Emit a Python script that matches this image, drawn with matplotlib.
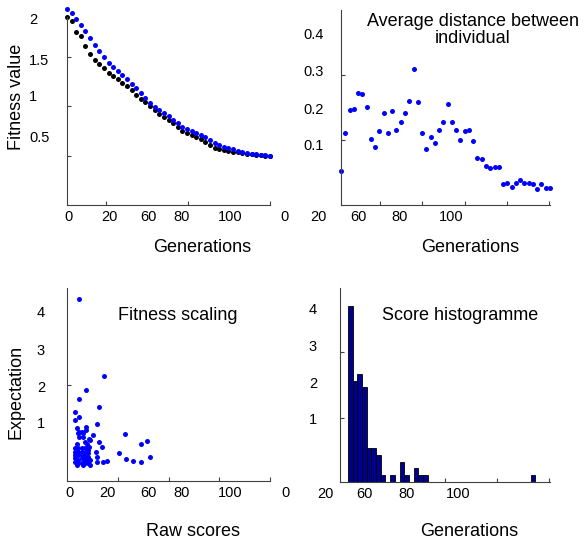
import numpy as np
import matplotlib
matplotlib.use("Agg")
import matplotlib.pyplot as plt
import matplotlib.transforms as mtransforms

plt.rcParams['font.family'] = ['Liberation Sans', 'DejaVu Sans']

# --- données : meilleur / moyen fitness par génération ---
fit_gen = np.arange(45)
fit_mean = [1.98, 1.94, 1.88, 1.82, 1.76, 1.69, 1.62, 1.56, 1.50, 1.44,
            1.39, 1.35, 1.31, 1.27, 1.22, 1.18, 1.13, 1.08, 1.03, 0.99,
            0.96, 0.93, 0.90, 0.86, 0.83, 0.79, 0.77, 0.75, 0.73, 0.71,
            0.69, 0.66, 0.63, 0.61, 0.59, 0.58, 0.565, 0.55, 0.54, 0.53,
            0.52, 0.515, 0.51, 0.505, 0.50]
fit_best = [1.90, 1.86, 1.75, 1.71, 1.61, 1.53, 1.47, 1.43, 1.38, 1.33,
            1.30, 1.27, 1.23, 1.20, 1.16, 1.11, 1.07, 1.04, 1.00, 0.96,
            0.92, 0.89, 0.86, 0.83, 0.79, 0.75, 0.73, 0.71, 0.69, 0.67,
            0.64, 0.61, 0.58, 0.565, 0.555, 0.55, 0.54, 0.535, 0.525, 0.52,
            0.515, 0.51, 0.505, 0.50, 0.50]

# --- distance moyenne entre individus ---
dist_gen = np.arange(50)
dist_val = [0.052, 0.111, 0.146, 0.148, 0.173, 0.171, 0.151, 0.101, 0.090, 0.114,
            0.141, 0.111, 0.144, 0.115, 0.128, 0.141, 0.160, 0.209, 0.158, 0.111,
            0.086, 0.105, 0.096, 0.115, 0.128, 0.156, 0.128, 0.115, 0.100, 0.114,
            0.115, 0.098, 0.073, 0.071, 0.060, 0.057, 0.058, 0.058, 0.032, 0.034,
            0.028, 0.034, 0.038, 0.034, 0.034, 0.032, 0.024, 0.032, 0.026, 0.026]

# --- fitness scaling : raw score vs expectation ---
raw_scores = [11.8, 36.7, 18.4, 11.8, 31.8, 7.9, 11.8, 7.9, 29.3, 18.4,
              9.6, 11.8, 16.1, 25.3, 11.8, 22.0, 57.1, 31.8, 17.7, 34.2,
              78.5, 72.9, 51.5, 28.6, 81.8, 58.1, 65.3, 72.9, 39.1, 35.8,
              29.3, 29.3,
              7.9, 11.1, 14.5, 17.7, 21.0, 7.9, 11.1, 14.5, 17.7, 21.0,
              7.9, 11.1, 14.5, 17.7, 21.0, 7.9, 11.1, 14.5, 17.7, 21.0,
              7.9, 11.1, 14.5, 17.7, 21.0, 22.7, 9.6, 16.1, 22.7,
              11.1, 16.1, 19.4, 9.6, 22.7, 22.0, 18.7, 14.5]
expectation = [3.79, 2.19, 1.90, 1.71, 1.55, 1.44, 1.34, 1.27, 1.18, 1.13,
               1.10, 1.03, 0.99, 0.96, 0.92, 0.87, 0.98, 0.81, 0.82, 0.71,
               0.83, 0.77, 0.59, 0.61, 0.49, 0.45, 0.42, 0.40, 0.42, 0.39,
               0.39, 0.51,
               0.68, 0.68, 0.68, 0.68, 0.65, 0.61, 0.61, 0.61, 0.58, 0.58,
               0.54, 0.54, 0.54, 0.51, 0.51, 0.47, 0.44, 0.47, 0.44, 0.44,
               0.40, 0.37, 0.37, 0.37, 0.37, 0.44, 0.33, 0.33, 0.33,
               0.99, 0.92, 0.78, 0.78, 0.85, 0.71, 1.06, 1.03]

# --- histogramme des scores (40 classes) ---
hist_bins = np.arange(40)
hist_counts = [26, 15, 16, 14, 5, 5, 4, 1, 0, 1,
               0, 3, 1, 0, 2, 1, 1, 0, 0, 0,
               0, 0, 0, 0, 0, 0, 0, 0, 0, 0,
               0, 0, 0, 0, 0, 0, 0, 0, 0, 1]

W, H = 586, 541
fig = plt.figure(figsize=(W / 100, H / 100), dpi=100)


def px_axes(left, top, right, bottom):
    return fig.add_axes([left / W, 1 - bottom / H, (right - left) / W, (bottom - top) / H])


def px_text(x, y, s, **kw):
    fig.text(x / W, 1 - y / H, s, **kw)


def style_axes(ax, xmarks, ymarks):
    for side in ['top', 'right']:
        ax.spines[side].set_visible(False)
    for side in ['left', 'bottom']:
        ax.spines[side].set_color('#404040')
        ax.spines[side].set_linewidth(0.8)
    ax.set_xticks(xmarks)
    ax.set_yticks(ymarks)
    ax.tick_params(direction='in', length=3, width=0.8, color='#404040',
                   labelbottom=False, labelleft=False)


def tick_texts(ax, xpos, xlabels, ypos, ylabels, yoff, yha):
    tx = mtransforms.offset_copy(mtransforms.blended_transform_factory(ax.transData, ax.transAxes),
                                 fig=fig, y=-12, units='dots')
    for p, lab in zip(xpos, xlabels):
        ax.text(p, 0, lab, transform=tx, ha='center', va='center', fontsize=10.5, clip_on=False)
    ty = mtransforms.offset_copy(mtransforms.blended_transform_factory(ax.transAxes, ax.transData),
                                 fig=fig, x=yoff, units='dots')
    for p, lab in zip(ypos, ylabels):
        ax.text(0, p, lab, transform=ty, ha=yha, va='center', fontsize=10.5, clip_on=False)


# 1. Fitness value
ax1 = px_axes(67, 17, 270, 205)
ax1.plot(fit_gen, fit_best, 'o', color='black', ms=3.6, mew=0, clip_on=False)
ax1.plot(fit_gen, fit_mean, 'o', color='blue', ms=3.6, mew=0, clip_on=False)
ax1.set_xlim(0, 44)
ax1.set_ylim(0, 1.9)
style_axes(ax1, [8.45, 26.2, 44], [0.5, 1.0, 1.5])
tick_texts(ax1, [0.43, 9.1, 17.6, 24.9, 35.3, 47.2], ['0', '20', '60', '80', '100', '0'],
           [1.87, 1.46, 1.09, 0.68], ['2', '1.5', '1', '0.5'], -38, 'left')
px_text(17, 97, 'Fitness value', rotation=90, ha='center', va='center', fontsize=13)
px_text(202, 248, 'Generations', ha='center', va='center', fontsize=13)

# 2. Average distance
ax2 = px_axes(341, 10, 550, 205)
ax2.plot(dist_gen, dist_val, 'o', color='blue', ms=3.6, mew=0, clip_on=False)
ax2.set_xlim(0, 49)
ax2.set_ylim(0, 0.3)
style_axes(ax2, [9.1, 19, 29, 38.9, 48.8], [0.1, 0.2])
tick_texts(ax2, [-5.4, 4.0, 13.8, 25.8], ['20', '60', '80', '100'],
           [0.262, 0.204, 0.146, 0.090], ['0.4', '0.3', '0.2', '0.1'], -38, 'left')
px_text(473, 30, 'Average distance between\nindividual', ha='center', va='center',
        fontsize=13, linespacing=1.05)
px_text(470, 248, 'Generations', ha='center', va='center', fontsize=13)

# 3. Fitness scaling
ax3 = px_axes(67, 288, 270, 481)
ax3.plot(raw_scores, expectation, 'o', color='blue', ms=3.6, mew=0, clip_on=False)
ax3.set_xlim(0, 200)
ax3.set_ylim(0, 4.02)
style_axes(ax3, [50, 100, 150, 200], [2.0])
tick_texts(ax3, [2, 39.4, 79.8, 113.3, 160.6, 214.8], ['0', '20', '60', '80', '100', '0'],
           [3.5, 2.71, 1.94, 1.19], ['4', '3', '2', '1'], -22, 'right')
px_text(178, 315, 'Fitness scaling', ha='center', va='center', fontsize=13)
px_text(16, 392, 'Expectation', rotation=90, ha='center', va='center', fontsize=13)
px_text(193, 532, 'Raw scores', ha='center', va='center', fontsize=13)

# 4. Score histogram
ax4 = px_axes(340, 288, 550, 482)
ax4.bar(hist_bins + 0.5, hist_counts, width=1.0, color=(0, 0, 0.5625),
        edgecolor='black', linewidth=0.6)
ax4.set_xlim(-1.7, 43.1)
ax4.set_ylim(0, 28.7)
style_axes(ax4, [20.7, 31.8, 42.9], [9.45, 19.2])
tick_texts(ax4, [-4.7, 3.6, 12.5, 23.6], ['20', '60', '80', '100'],
           [25.4, 19.9, 14.5, 9.2], ['4', '3', '2', '1'], -23, 'right')
px_text(460, 315, 'Score histogramme', ha='center', va='center', fontsize=13)
px_text(469, 532, 'Generations', ha='center', va='center', fontsize=13)

fig.savefig('out.png', dpi=100)
